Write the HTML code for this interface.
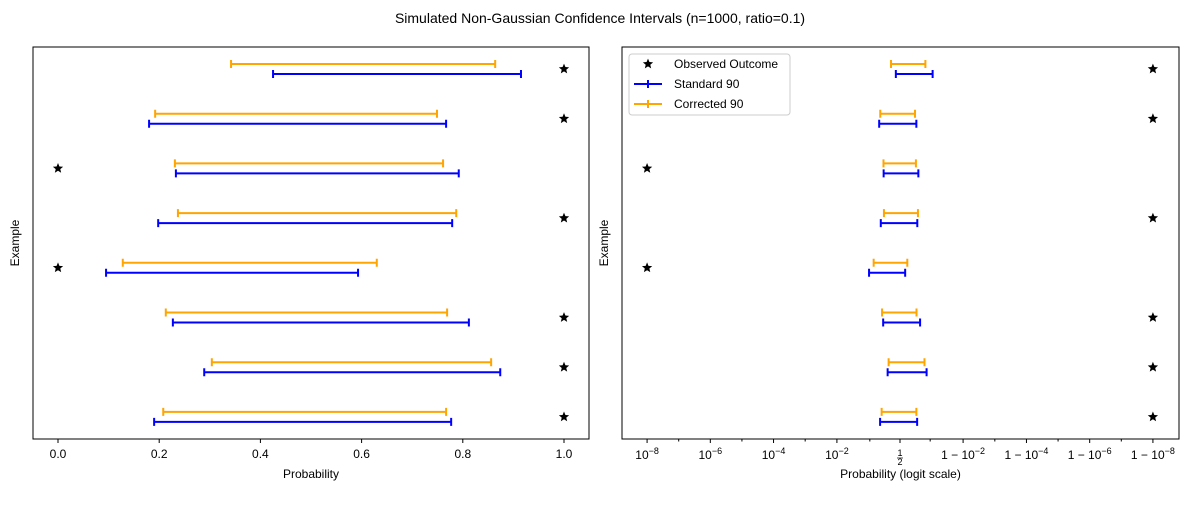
<!DOCTYPE html>
<html><head><meta charset="utf-8"><style>
body{margin:0;background:#fff;font-family:"Liberation Sans",sans-serif}
svg text{font-family:"Liberation Sans",sans-serif;font-size:12px;fill:#000}
</style></head><body>
<svg id="chart" width="1200" height="500" viewBox="0 0 1200 500">
<text x="600" y="23" text-anchor="middle" style="font-size:14px">Simulated Non-Gaussian Confidence Intervals (n=1000, ratio=0.1)</text>
</svg>
<script>
const rows = [0,1,2,3,4,5,6,7];
const corrLo = [0.342,0.192,0.231,0.237,0.128,0.213,0.304,0.208];
const corrHi = [0.864,0.749,0.761,0.787,0.630,0.769,0.856,0.767];
const stdLo  = [0.425,0.180,0.233,0.198,0.095,0.227,0.289,0.190];
const stdHi  = [0.915,0.767,0.792,0.779,0.593,0.812,0.874,0.777];
const outcomes = [1,1,0,1,0,1,1,1];
const linTicks = [0,0.2,0.4,0.6,0.8,1.0];
const linTickLabels = ['0.0','0.2','0.4','0.6','0.8','1.0'];
const logitTicks = [1e-8,1e-6,1e-4,1e-2,0.5,1-1e-2,1-1e-4,1-1e-6,1-1e-8];
const logitMinor = [1e-7,1e-5,1e-3,0.1,0.9,1-1e-3,1-1e-5,1-1e-7];

const svg=document.getElementById('chart');
const NS='http://www.w3.org/2000/svg';
function mk(tag,attrs,parent){const e=document.createElementNS(NS,tag);for(const k in attrs)e.setAttribute(k,attrs[k]);(parent||svg).appendChild(e);return e;}
const yTop=47,yBot=439;
function yRow(i){return 69+i*49.7;}
function logit(p){p=Math.min(Math.max(p,1e-8),1-1e-8);return Math.log(p/(1-p));}
function star(g,cx,cy){let d='';for(let k=0;k<10;k++){const r=k%2?2.4:5.4;const a=-Math.PI/2+k*Math.PI/5;d+=(k?'L':'M')+(cx+r*Math.cos(a)).toFixed(2)+','+(cy+r*Math.sin(a)).toFixed(2);}const s=mk('path',{d:d+'Z',fill:'#000'},g);return s;}
function interval(g,x1,x2,y,col){const l=mk('path',{d:`M${x1},${y}H${x2}M${x1},${y-4}V${y+4}M${x2},${y-4}V${y+4}`,stroke:col,'stroke-width':2,fill:'none'},g);return l;}

function panel(x0,x1,xs,name,xlabel){
  const g=mk('g',{});
  
  
  for(const i of rows){
    const o=interval(g,xs(corrLo[i]),xs(corrHi[i]),yRow(i)-5,'#ffa500');
    
    
    const b=interval(g,xs(stdLo[i]),xs(stdHi[i]),yRow(i)+5,'#0000ff');
    
    
    const s=star(g,xs(outcomes[i]),yRow(i));
    
    
  }
  const fr=mk('rect',{x:x0,y:yTop,width:x1-x0,height:yBot-yTop,fill:'none',stroke:'#000','stroke-width':1},g);
  
  
  const yl=mk('text',{transform:`translate(${x0-14},243) rotate(-90)`,'text-anchor':'middle'},g);yl.textContent='Example';
  
  
  const xl=mk('text',{x:(x0+x1)/2,y:478,'text-anchor':'middle'},g);xl.textContent=xlabel;
  
  
  return g;
}
// left
const xsL=v=>58+v*506;
const gL=panel(33,589,xsL,'linear-panel','Probability');
linTicks.forEach((t,i)=>{const x=xsL(t);mk('line',{x1:x,x2:x,y1:yBot,y2:yBot+4,stroke:'#000'},gL);const tx=mk('text',{x:x,y:458,'text-anchor':'middle'},gL);tx.textContent=linTickLabels[i];

});
// right
const xsR=v=>900+logit(v)*13.73;
const gR=panel(622,1179,xsR,'logit-panel','Probability (logit scale)');
logitMinor.forEach(t=>{const x=xsR(t);mk('line',{x1:x,x2:x,y1:yBot,y2:yBot+2.5,stroke:'#000'},gR);});
logitTicks.forEach(t=>{const x=xsR(t);mk('line',{x1:x,x2:x,y1:yBot,y2:yBot+4,stroke:'#000'},gR);
  const tx=mk('text',{x:x,y:459,'text-anchor':'middle'},gR);
  
  
  if(t===0.5){tx.innerHTML='<tspan style="font-size:9px" x="'+x+'" dy="-3">1</tspan><tspan style="font-size:9px" x="'+x+'" dy="9">2</tspan>';mk('line',{x1:x-3,x2:x+3,y1:458,y2:458,stroke:'#000','stroke-width':0.7},gR);}
  else{const e=Math.round(-Math.log10(t<0.5?t:1-t));tx.innerHTML=(t>0.5?'1 − ':'')+'10<tspan dy="-5" style="font-size:9px">−'+e+'</tspan>';}
});
// legend
const lg=mk('g',{});


mk('rect',{x:629,y:54,width:161,height:61,rx:3,fill:'#fff',stroke:'#ccc'},lg);
star(lg,648,64);
const l1=mk('text',{x:674,y:68},lg);l1.textContent='Observed Outcome';
mk('path',{d:'M634,84H662M648,80V88',stroke:'#0000ff','stroke-width':2},lg);
const l2=mk('text',{x:674,y:88},lg);l2.textContent='Standard 90';
mk('path',{d:'M634,104H662M648,100V108',stroke:'#ffa500','stroke-width':2},lg);
const l3=mk('text',{x:674,y:108},lg);l3.textContent='Corrected 90';
[l1,l2,l3].forEach(e=>{});
</script>
</body></html>
